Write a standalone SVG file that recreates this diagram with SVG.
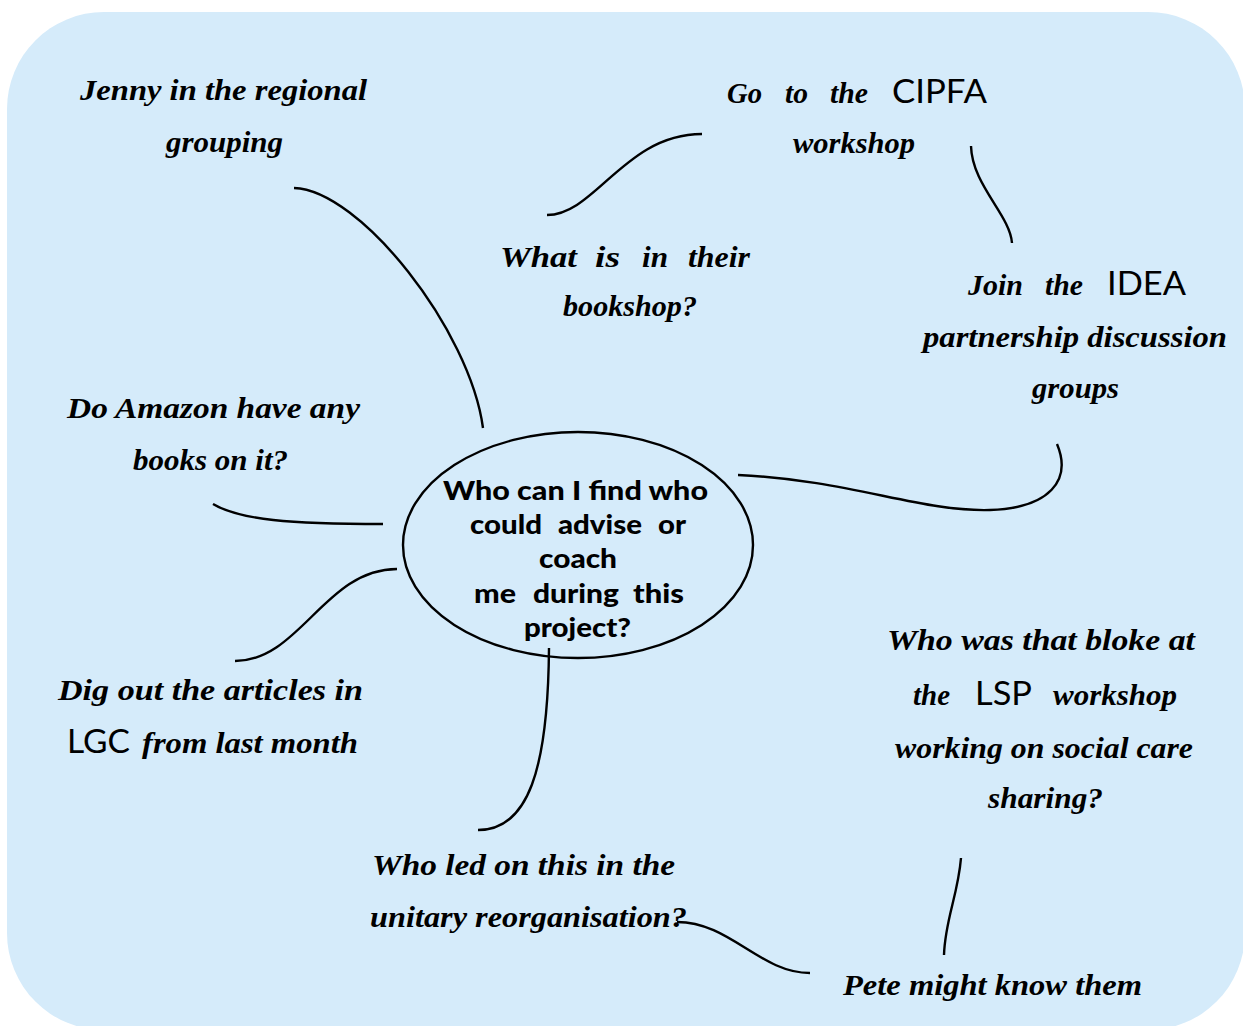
<svg xmlns="http://www.w3.org/2000/svg" width="1243" height="1026" viewBox="0 0 1243 1026">
  <style>
    .panel { fill: #d5ebfa; }
    .link { fill: none; stroke: #000; stroke-width: 2.4; stroke-linecap: butt; }
    .hub { fill: none; stroke: #000; stroke-width: 2.4; }
    .script { font-family: "Liberation Serif", "DejaVu Serif", serif; font-style: italic; font-weight: bold; font-size: 30px; fill: #000; }
    .plain { font-family: Lato, "Open Sans", "Liberation Sans", sans-serif; font-size: 32px; fill: #000; }
    .hubtext { font-family: Lato, "Open Sans", "Liberation Sans", sans-serif; font-weight: 900; font-size: 27px; fill: #000; }
  </style>

  <!-- background panel -->
  <rect class="panel" x="7" y="12" width="1238" height="1018" rx="97" ry="97"/>

  <!-- connectors between ideas -->
  <g id="connectors">
    <path class="link" d="M294,188 C360,190 470,330 483,428"/>
    <path class="link" d="M547,215 C595,215 625,134 702,134"/>
    <path class="link" d="M971,146 C972,185 1010,215 1012,243"/>
    <path class="link" d="M738,475 C850,480 920,512 990,510 C1050,508 1072,480 1057,444"/>
    <path class="link" d="M213,504 C240,520 290,524 383,524"/>
    <path class="link" d="M235,661 C300,661 325,569 397,569"/>
    <path class="link" d="M549,648 C548,770 528,830 478,830"/>
    <path class="link" d="M677,922 C730,922 760,973 810,973"/>
    <path class="link" d="M961,858 C958,895 945,920 944,955"/>
  </g>

  <!-- central question -->
  <g id="node-center">
    <ellipse class="hub" cx="578" cy="545" rx="175" ry="113"/>
    <text class="hubtext" x="443" y="500" textLength="265" lengthAdjust="spacingAndGlyphs">Who can I find who</text>
    <text class="hubtext" x="470" y="534" textLength="72" lengthAdjust="spacingAndGlyphs">could</text>
    <text class="hubtext" x="558" y="534" textLength="84" lengthAdjust="spacingAndGlyphs">advise</text>
    <text class="hubtext" x="658" y="534" textLength="28" lengthAdjust="spacingAndGlyphs">or</text>
    <text class="hubtext" x="539" y="568" textLength="78" lengthAdjust="spacingAndGlyphs">coach</text>
    <text class="hubtext" x="474" y="603" textLength="42" lengthAdjust="spacingAndGlyphs">me</text>
    <text class="hubtext" x="533" y="603" textLength="86" lengthAdjust="spacingAndGlyphs">during</text>
    <text class="hubtext" x="633" y="603" textLength="51" lengthAdjust="spacingAndGlyphs">this</text>
    <text class="hubtext" x="524" y="637" textLength="107" lengthAdjust="spacingAndGlyphs">project?</text>
  </g>

  <g id="node-jenny">
    <text class="script" x="80" y="100" textLength="287" lengthAdjust="spacingAndGlyphs">Jenny in the regional</text>
    <text class="script" x="166" y="152" textLength="117" lengthAdjust="spacingAndGlyphs">grouping</text>
  </g>

  <g id="node-cipfa">
    <text class="script" x="727" y="103" textLength="35" lengthAdjust="spacingAndGlyphs">Go</text>
    <text class="script" x="785" y="103" textLength="23" lengthAdjust="spacingAndGlyphs">to</text>
    <text class="script" x="830" y="103" textLength="38" lengthAdjust="spacingAndGlyphs">the</text>
    <text class="plain" x="892" y="103" textLength="95" lengthAdjust="spacingAndGlyphs">CIPFA</text>
    <text class="script" x="793" y="153" textLength="122" lengthAdjust="spacingAndGlyphs">workshop</text>
  </g>

  <g id="node-bookshop">
    <text class="script" x="500" y="267" textLength="77" lengthAdjust="spacingAndGlyphs">What</text>
    <text class="script" x="595" y="267" textLength="25" lengthAdjust="spacingAndGlyphs">is</text>
    <text class="script" x="642" y="267" textLength="26" lengthAdjust="spacingAndGlyphs">in</text>
    <text class="script" x="688" y="267" textLength="62" lengthAdjust="spacingAndGlyphs">their</text>
    <text class="script" x="563" y="316" textLength="134" lengthAdjust="spacingAndGlyphs">bookshop?</text>
  </g>

  <g id="node-idea">
    <text class="script" x="968" y="295" textLength="55" lengthAdjust="spacingAndGlyphs">Join</text>
    <text class="script" x="1045" y="295" textLength="38" lengthAdjust="spacingAndGlyphs">the</text>
    <text class="plain" x="1107" y="295" textLength="79" lengthAdjust="spacingAndGlyphs">IDEA</text>
    <text class="script" x="923" y="347" textLength="304" lengthAdjust="spacingAndGlyphs">partnership discussion</text>
    <text class="script" x="1032" y="398" textLength="87" lengthAdjust="spacingAndGlyphs">groups</text>
  </g>

  <g id="node-amazon">
    <text class="script" x="67" y="418" textLength="293" lengthAdjust="spacingAndGlyphs">Do Amazon have any</text>
    <text class="script" x="133" y="470" textLength="155" lengthAdjust="spacingAndGlyphs">books on it?</text>
  </g>

  <g id="node-articles">
    <text class="script" x="58" y="700" textLength="305" lengthAdjust="spacingAndGlyphs">Dig out the articles in</text>
    <text class="plain" x="67" y="753" textLength="63" lengthAdjust="spacingAndGlyphs">LGC</text>
    <text class="script" x="142" y="753" textLength="216" lengthAdjust="spacingAndGlyphs">from last month</text>
  </g>

  <g id="node-lsp">
    <text class="script" x="887" y="650" textLength="308" lengthAdjust="spacingAndGlyphs">Who was that bloke at</text>
    <text class="script" x="913" y="705" textLength="37" lengthAdjust="spacingAndGlyphs">the</text>
    <text class="plain" x="975" y="705" textLength="57" lengthAdjust="spacingAndGlyphs">LSP</text>
    <text class="script" x="1053" y="705" textLength="124" lengthAdjust="spacingAndGlyphs">workshop</text>
    <text class="script" x="895" y="758" textLength="298" lengthAdjust="spacingAndGlyphs">working on social care</text>
    <text class="script" x="988" y="808" textLength="115" lengthAdjust="spacingAndGlyphs">sharing?</text>
  </g>

  <g id="node-unitary">
    <text class="script" x="372" y="875" textLength="303" lengthAdjust="spacingAndGlyphs">Who led on this in the</text>
    <text class="script" x="370" y="927" textLength="317" lengthAdjust="spacingAndGlyphs">unitary reorganisation?</text>
  </g>

  <g id="node-pete">
    <text class="script" x="843" y="995" textLength="299" lengthAdjust="spacingAndGlyphs">Pete might know them</text>
  </g>
</svg>
